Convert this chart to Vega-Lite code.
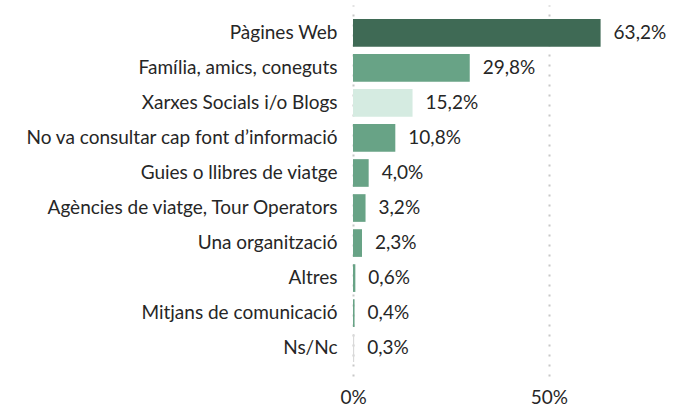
{
  "$schema": "https://vega.github.io/schema/vega-lite/v6.json",
  "autosize": "none",
  "padding": {"left": 353, "top": 5, "right": 0, "bottom": 32},
  "width": 333,
  "height": 371,
  "config": {
    "view": {"stroke": null},
    "locale": {"number": {"decimal": ",", "thousands": ".", "grouping": [3], "currency": ["", " €"]}},
    "font": "Lato"
  },
  "data": {
    "values": [
      {"cat": "Pàgines Web", "v": 0.632, "grp": "a"},
      {"cat": "Família, amics, coneguts", "v": 0.298, "grp": "b"},
      {"cat": "Xarxes Socials i/o Blogs", "v": 0.152, "grp": "c"},
      {"cat": "No va consultar cap font d’informació", "v": 0.108, "grp": "b"},
      {"cat": "Guies o llibres de viatge", "v": 0.040, "grp": "b"},
      {"cat": "Agències de viatge, Tour Operators", "v": 0.032, "grp": "b"},
      {"cat": "Una organització", "v": 0.023, "grp": "b"},
      {"cat": "Altres", "v": 0.006, "grp": "b"},
      {"cat": "Mitjans de comunicació", "v": 0.004, "grp": "b"},
      {"cat": "Ns/Nc", "v": 0.003, "grp": "d"}
    ]
  },
  "encoding": {
    "y": {
      "field": "cat", "type": "nominal", "sort": null,
      "scale": {"paddingInner": 0.21, "paddingOuter": 0.4},
      "axis": {"title": null, "domain": false, "ticks": false, "labelPadding": 16, "labelFontSize": 19, "labelColor": "#262626", "labelFont": "Lato", "labelLimit": 400}
    },
    "x": {
      "field": "v", "type": "quantitative",
      "scale": {"domain": [0, 0.85], "nice": false},
      "axis": {"title": null, "values": [0, 0.5], "format": "~%", "domain": false, "ticks": false, "labelFlush": false, "labelFontSize": 19, "labelColor": "#262626", "labelPadding": 12, "grid": true, "gridColor": "#c8c8c8", "gridDash": [2, 8], "gridWidth": 2}
    }
  },
  "layer": [
    {
      "mark": {"type": "bar"},
      "encoding": {
        "color": {
          "field": "grp", "type": "nominal", "legend": null,
          "scale": {"domain": ["a", "b", "c", "d"], "range": ["#3f6a55", "#68a386", "#d5ebe1", "#d9d9d9"]}
        }
      }
    },
    {
      "mark": {"type": "text", "align": "left", "dx": 13, "fontSize": 19, "color": "#262626"},
      "encoding": {
        "text": {"field": "v", "type": "quantitative", "format": ".1%"}
      }
    }
  ]
}
